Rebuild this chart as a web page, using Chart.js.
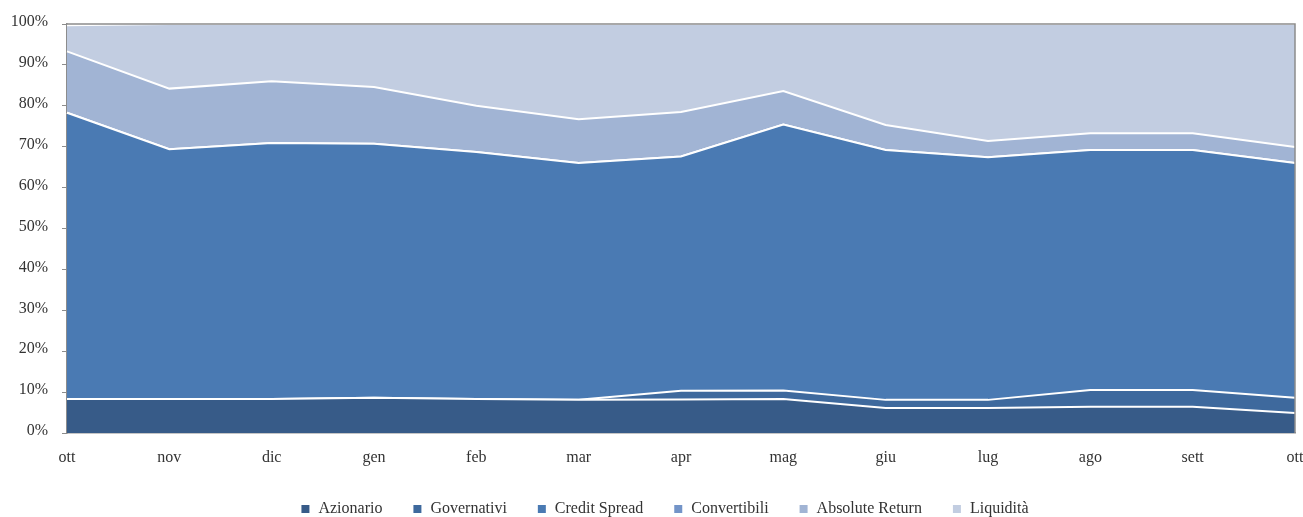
<html>
<head>
    <style>
        body { margin: 0; background: #fff; }
        #wrap { width: 1303px; height: 517px; }
    </style>
    <script src="https://cdn.jsdelivr.net/npm/chart.js@4"></script>
</head>
<body>
<div id="wrap"><canvas id="myChart" width="1303" height="517"></canvas></div>
<script>
    // months (x axis)
    var months = ["ott", "nov", "dic", "gen", "feb", "mar", "apr", "mag", "giu", "lug", "ago", "sett", "ott"];

    // share of each asset class, % (stacked to 100)
    var azionario      = [8.3, 8.3, 8.3, 8.6, 8.3, 8.1, 8.2, 8.3, 6.1, 6.1, 6.4, 6.4, 4.9];
    var governativi    = [0.0, 0.0, 0.0, 0.0, 0.0, 0.0, 2.1, 2.1, 2.0, 2.0, 4.1, 4.1, 3.7];
    var creditSpread   = [70.0, 61.1, 62.6, 62.1, 60.4, 57.9, 57.3, 65.0, 61.1, 59.3, 58.7, 58.7, 57.4];
    var convertibili   = [0, 0, 0, 0, 0, 0, 0, 0, 0, 0, 0, 0, 0];
    var absoluteReturn = [15.0, 14.8, 15.1, 13.9, 11.3, 10.7, 10.9, 8.2, 6.1, 4.0, 4.1, 4.1, 3.9];
    var liquidita      = [6.4, 15.8, 14.0, 15.4, 20.0, 23.3, 21.5, 16.4, 24.7, 28.6, 26.7, 26.7, 30.1];

    var yTicks = [0, 10, 20, 30, 40, 50, 60, 70, 80, 90, 100];

    var serif = "'Liberation Serif', 'DejaVu Serif', serif";

    function area(label, data, color, first) {
        return {
            label: label,
            data: data,
            backgroundColor: color,
            borderColor: "#ffffff",
            borderWidth: 2,
            pointRadius: 0,
            tension: 0,
            fill: first ? "origin" : "-1"
        };
    }

    // gray frame round the plot area, legend nudged right like the original
    var frame = {
        id: "frame",
        afterLayout: function(chart) {
            if (chart.legend) chart.legend.left += 34;
        },
        afterDatasetsDraw: function(chart) {
            var a = chart.chartArea;
            var ctx = chart.ctx;
            ctx.save();
            ctx.strokeStyle = "#8c8c8c";
            ctx.lineWidth = 1.5;
            ctx.beginPath();
            ctx.moveTo(a.left, a.top);
            ctx.lineTo(a.right, a.top);
            ctx.lineTo(a.right, a.bottom);
            ctx.stroke();
            ctx.restore();
        }
    };

    var ctx = document.getElementById("myChart").getContext("2d");
    var chart = new Chart(ctx, {
        type: "line",
        data: {
            labels: months,
            datasets: [
                area("Azionario", azionario, "#375b88", true),
                area("Governativi", governativi, "#3e699d", false),
                area("Credit Spread", creditSpread, "#4a7ab3", false),
                area("Convertibili", convertibili, "#7394c8", false),
                area("Absolute Return", absoluteReturn, "#a1b4d4", false),
                area("Liquidità", liquidita, "#c2cde1", false)
            ]
        },
        options: {
            responsive: false,
            animation: false,
            layout: { padding: { left: 0, right: 8, top: 24, bottom: -10 } },
            plugins: {
                tooltip: { enabled: false },
                legend: {
                    position: "bottom",
                    labels: {
                        boxWidth: 10,
                        boxHeight: 10,
                        padding: 30,
                        color: "#333",
                        font: { family: serif, size: 16 }
                    }
                }
            },
            scales: {
                x: {
                    offset: false,
                    grid: { display: false, drawTicks: true, tickLength: 5, color: "#8c8c8c" },
                    border: { color: "#8c8c8c", width: 1.5 },
                    ticks: {
                        color: "#333",
                        padding: 10,
                        maxRotation: 0,
                        autoSkip: false,
                        font: { family: serif, size: 16 }
                    },
                    afterFit: function(scale) {
                        scale.height = 38;
                        scale.paddingLeft = 0;
                        scale.paddingRight = 0;
                    }
                },
                y: {
                    stacked: true,
                    min: 0,
                    max: 100,
                    afterBuildTicks: function(scale) {
                        scale.ticks = yTicks.map(function(v) { return { value: v }; });
                    },
                    grid: { display: true, drawOnChartArea: false, tickLength: 5, color: "#8c8c8c" },
                    border: { color: "#8c8c8c", width: 1.5 },
                    ticks: {
                        color: "#333",
                        padding: 14,
                        labelOffset: -2,
                        font: { family: serif, size: 16 },
                        callback: function(v) { return v + "%"; }
                    },
                    afterFit: function(scale) {
                        scale.width = 67;
                        scale.paddingTop = 0;
                        scale.paddingBottom = 0;
                    }
                }
            }
        },
        plugins: [frame]
    });
</script>
</body>
</html>
